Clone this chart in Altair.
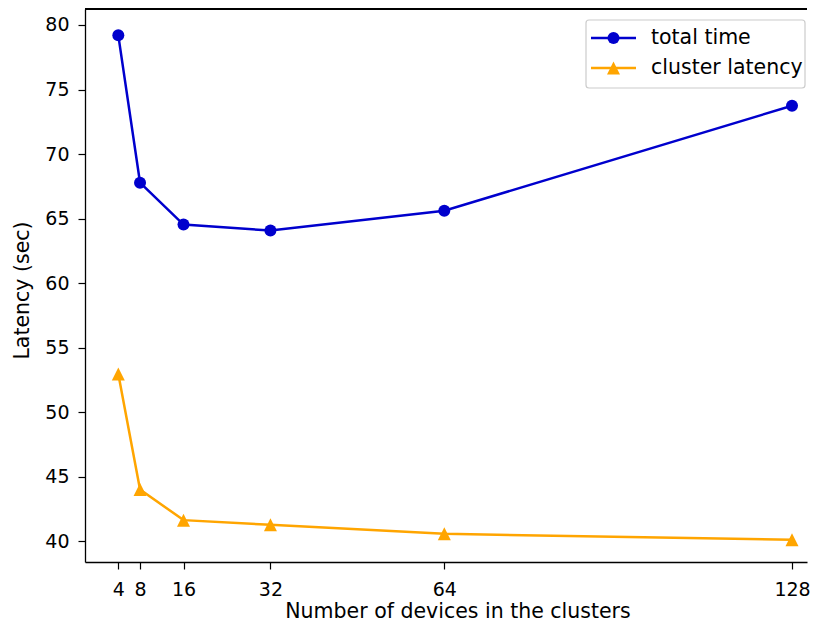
import altair as alt
import pandas as pd

devices = [4, 8, 16, 32, 64, 128]
total_time = [79.2, 67.78, 64.53, 64.07, 65.6, 73.74]
cluster_latency = [52.95, 44.0, 41.62, 41.26, 40.56, 40.1]
series_names = ["total time", "cluster latency"]
series_colors = ["#0000cd", "#ffa500"]
series_shapes = ["circle", "M0,-1L1,1L-1,1Z"]
x_ticks = [4, 8, 16, 32, 64, 128]
y_ticks = [40, 45, 50, 55, 60, 65, 70, 75, 80]

rows = []
for d, t, c in zip(devices, total_time, cluster_latency):
    rows.append({"devices": d, "latency": t, "series": series_names[0]})
    rows.append({"devices": d, "latency": c, "series": series_names[1]})
df = pd.DataFrame(rows)
legend_df = pd.DataFrame({"series": series_names})

FONT = "DejaVu Sans"
W, H = 722, 553
X_DOMAIN = [-2.13, 130.76]
Y_DOMAIN = [38.375, 81.24]

x_scale = alt.Scale(domain=X_DOMAIN, nice=False, zero=False)
y_scale = alt.Scale(domain=Y_DOMAIN, nice=False, zero=False)

x_enc = alt.X("devices:Q", scale=x_scale,
              axis=alt.Axis(values=x_ticks, title="Number of devices in the clusters", format="d",
                            titleX=372.5))
y_enc = alt.Y("latency:Q", scale=y_scale,
              axis=alt.Axis(values=y_ticks, title="Latency (sec)", format="d", titleY=281))
color_scale = alt.Scale(domain=series_names, range=series_colors)
color_enc = alt.Color("series:N", scale=color_scale, legend=None)

base = alt.Chart(df)

top_spine = base.mark_rule(color="black", strokeWidth=1.3).encode(
    x=alt.value(0), x2=alt.value(W), y=alt.value(0)
)

lines = base.mark_line(strokeWidth=2.5, clip=True).encode(
    x=x_enc, y=y_enc, color=color_enc, detail="series:N",
)

marker_layers = []
for name, shp, sz in zip(series_names, series_shapes, [144, 169]):
    marker_layers.append(
        base.transform_filter(alt.datum.series == name).mark_point(
            filled=True, shape=shp, size=sz, opacity=1
        ).encode(x=x_enc, y=y_enc, color=color_enc)
    )

# legend (matplotlib style: line with marker, inside the upper right corner)
lbase = alt.Chart(legend_df)
legend_box = lbase.transform_filter(alt.datum.series == series_names[0]).mark_rect(
    fill="white", fillOpacity=0.85, stroke="#cccccc", strokeWidth=1.2, cornerRadius=3
).encode(x=alt.value(501), x2=alt.value(720), y=alt.value(11), y2=alt.value(79))

legend_layers = [legend_box]
for i, (name, shp, sz) in enumerate(zip(series_names, series_shapes, [144, 169])):
    yc = 29 + 30 * i
    sub = lbase.transform_filter(alt.datum.series == name)
    legend_layers.append(sub.mark_rule(strokeWidth=2.5).encode(
        x=alt.value(506), x2=alt.value(551), y=alt.value(yc), color=color_enc))
    legend_layers.append(sub.mark_point(filled=True, shape=shp, size=sz, opacity=1).encode(
        x=alt.value(528.5), y=alt.value(yc), color=color_enc))
    legend_layers.append(sub.mark_text(
        align="left", baseline="middle", font=FONT, fontSize=20.5, color="black"
    ).encode(x=alt.value(566), y=alt.value(yc), text="series:N"))

chart = alt.layer(top_spine, lines, *marker_layers, *legend_layers).properties(
    width=W, height=H,
    padding={"left": 4, "top": 0, "right": 0, "bottom": 0},
).configure_view(
    strokeWidth=0
).configure_axis(
    grid=False, domain=True, domainColor="black", domainWidth=1.3,
    tickColor="black", tickSize=7, tickWidth=1.2,
    labelFont=FONT, labelFontSize=19, labelColor="black",
    titleFont=FONT, titleFontSize=20.5, titleFontWeight="normal", titleColor="black",
).configure_axisX(
    labelPadding=11, titlePadding=2,
).configure_axisY(
    labelPadding=9, titlePadding=12,
)

chart.save("out.html", embed_options={"renderer": "svg", "actions": False})
